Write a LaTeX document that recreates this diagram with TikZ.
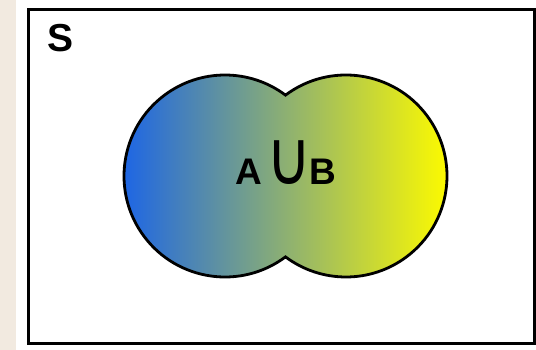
\documentclass[tikz,border=0pt]{standalone}
\usepackage{fontspec}
\setmainfont{Liberation Sans}
\newfontfamily\symfont{DejaVu Sans}
\usetikzlibrary{calc}
\definecolor{setblue}{RGB}{30,102,228}
\definecolor{setyellow}{RGB}{252,250,0}
\definecolor{paper}{RGB}{242,234,224}

\begin{document}
\begin{tikzpicture}[x=1pt,y=-1pt,
  lbl/.style={font=\bfseries\fontsize{37}{37}\selectfont, inner sep=0pt, anchor=base},
  rim/.style={line width=2.8pt, black}
]
\useasboundingbox (0,0) rectangle (536,350);

% --- page background ---
\fill[paper] (0,0) rectangle (16,350);
\fill[white] (16,0) rectangle (536,350);

% --- universal set ---
\draw[rim] (28.5,9.5) rectangle (534.5,343.5);
\node[lbl, font=\bfseries\fontsize{39}{39}\selectfont] (s) at (60.5,51.7) {S};

% --- the two sets, centres ---
\coordinate (a) at (225,176);
\coordinate (b) at (346,176);

% --- shaded union ---
\shade[left color=setblue, right color=setyellow]
  (a) circle[radius=101] (b) circle[radius=101];

% --- outline of the union only ---
\draw[rim] ($(a)+(53.2:101)$)
  arc[start angle=53.2, end angle=306.8, radius=101]
  arc[start angle=233.2, end angle=486.8, radius=101] -- cycle;

% --- label ---
\node[lbl] (seta) at (249.2,185) {A};
\node[lbl, font=\symfont\fontsize{62}{62}\selectfont] (cup) at (289.5,185)
  {\makebox[21pt][c]{\scalebox{1}[1.22]{∪}}};
\node[lbl] (setb) at (323,185) {B};

\end{tikzpicture}
\end{document}
